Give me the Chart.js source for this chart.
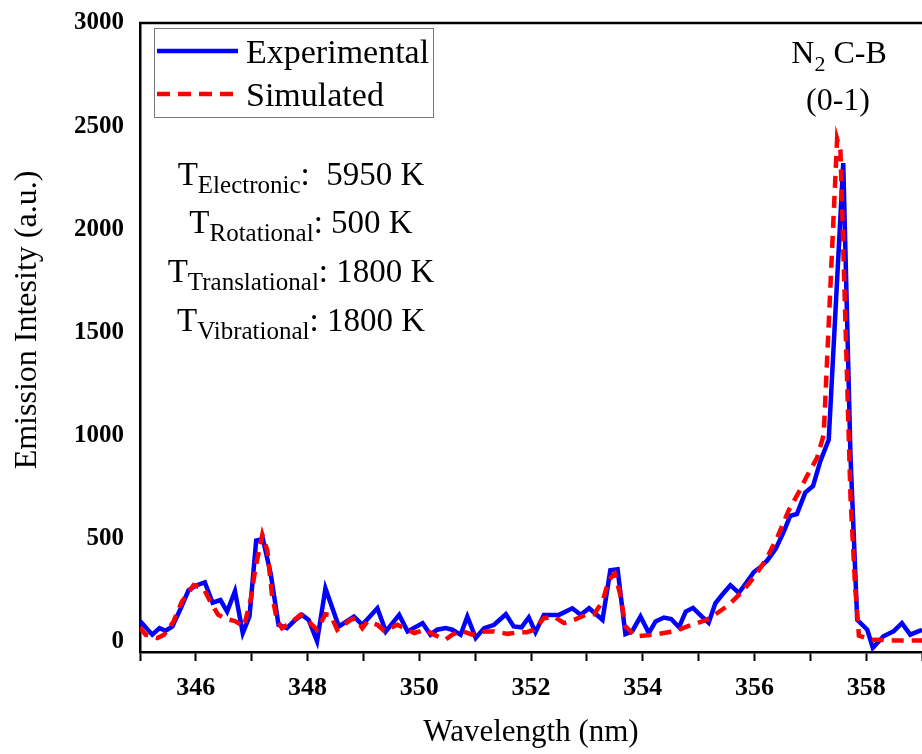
<!DOCTYPE html>
<html>
<head>
<meta charset="utf-8">
<title>N2 C-B (0-1) emission</title>
<script src="https://cdn.jsdelivr.net/npm/chart.js@4.4.1/dist/chart.umd.min.js"></script>
<style>
  html, body { margin: 0; padding: 0; background: #fff; overflow: hidden; }
  #wrap { width: 922px; height: 754px; position: relative; }
</style>
</head>
<body>
<div id="wrap"><canvas id="myChart"></canvas></div>
<script>
// experimental spectrum (nm, a.u.)
const expWavelength = [345.00, 345.22, 345.35, 345.46, 345.58, 345.73, 345.87, 346.02, 346.16, 346.30,
  346.44, 346.56, 346.70, 346.84, 346.96, 347.08, 347.20, 347.34, 347.48, 347.63,
  347.78, 347.90, 348.02, 348.17, 348.32, 348.56, 348.83, 348.98, 349.25, 349.40,
  349.64, 349.79, 350.06, 350.20, 350.32, 350.47, 350.59, 350.74, 350.86, 351.01,
  351.16, 351.34, 351.55, 351.69, 351.83, 351.96, 352.08, 352.23, 352.50, 352.74,
  352.89, 353.04, 353.28, 353.42, 353.55, 353.69, 353.81, 353.96, 354.11, 354.23,
  354.38, 354.51, 354.65, 354.77, 354.90, 355.06, 355.18, 355.30, 355.43, 355.57,
  355.72, 355.86, 355.99, 356.11, 356.23, 356.38, 356.52, 356.64, 356.76, 356.91,
  357.05, 357.18, 357.33, 357.59, 357.72, 357.84, 358.02, 358.12, 358.31, 358.49,
  358.64, 358.79, 359.00];
const expIntensity = [100, 34, 66, 53, 74, 162, 250, 274, 288, 189,
  202, 146, 245, 42, 122, 490, 498, 330, 82, 66,
  106, 130, 106, 2, 258, 74, 122, 82, 162, 50,
  130, 50, 90, 34, 58, 66, 58, 34, 122, 18,
  66, 82, 133, 74, 70, 118, 46, 130, 130, 162,
  130, 162, 106, 346, 351, 37, 50, 122, 42, 98,
  117, 110, 70, 146, 164, 122, 92, 186, 230, 274,
  237, 288, 338, 362, 394, 450, 530, 610, 619, 723,
  755, 875, 979, 2321, 900, 106, 58, -30, 26, 50,
  90, 34, 58];

// simulated spectrum (nm, a.u.)
const simWavelength = [345.00, 345.10, 345.31, 345.43, 345.60, 345.75, 345.96, 346.14, 346.26, 346.40,
  346.55, 346.70, 346.86, 346.98, 347.07, 347.19, 347.28, 347.36, 347.45, 347.54,
  347.69, 347.87, 347.99, 348.17, 348.32, 348.41, 348.53, 348.77, 348.86, 348.98,
  349.07, 349.25, 349.37, 349.61, 349.79, 349.91, 350.11, 350.26, 350.47, 350.59,
  350.74, 350.95, 351.19, 351.34, 351.58, 351.76, 351.93, 352.05, 352.23, 352.41,
  352.59, 352.77, 353.01, 353.13, 353.28, 353.39, 353.50, 353.60, 353.69, 353.87,
  354.20, 354.38, 354.56, 354.80, 354.98, 355.15, 355.33, 355.54, 355.78, 356.02,
  356.23, 356.41, 356.61, 356.79, 356.94, 357.12, 357.24, 357.48, 357.54, 357.72,
  357.80, 357.87, 358.08, 358.50, 359.00];
const simIntensity = [70, 34, 18, 34, 98, 194, 274, 258, 194, 130,
  110, 100, 74, 202, 362, 519, 442, 234, 106, 66,
  90, 130, 106, 58, 133, 130, 58, 106, 114, 66,
  98, 82, 53, 82, 58, 42, 58, 34, 10, 34,
  53, 34, 50, 50, 38, 45, 46, 58, 114, 122,
  90, 106, 133, 133, 194, 298, 330, 226, 74, 26,
  34, 42, 50, 74, 90, 106, 138, 178, 242, 322,
  410, 506, 635, 723, 803, 891, 1003, 2438, 2381, 700,
  282, 30, 10, 6, 6];

const xTicks = [345, 346, 347, 348, 349, 350, 351, 352, 353, 354, 355, 356, 357, 358, 359];
const xLabels = [346, 348, 350, 352, 354, 356, 358];
const yTicks = [0, 500, 1000, 1500, 2000, 2500, 3000];

const tempNames = ['Electronic', 'Rotational', 'Translational', 'Vibrational'];
const tempValues = [':  5950 K', ': 500 K', ': 1800 K', ': 1800 K'];

const serif = '"Liberation Serif", "Times New Roman", serif';

function toPoints(xs, ys) {
  return xs.map((x, i) => ({x: x, y: ys[i]}));
}

// text with a subscript, centred on cx
function drawSub(ctx, cx, base, main, sub, rest, big, small, drop) {
  ctx.font = big + 'px ' + serif;
  const w1 = ctx.measureText(main).width;
  const w3 = ctx.measureText(rest).width;
  ctx.font = small + 'px ' + serif;
  const w2 = ctx.measureText(sub).width;
  let x = cx - (w1 + w2 + w3) / 2;
  ctx.textAlign = 'left';
  ctx.textBaseline = 'alphabetic';
  ctx.font = big + 'px ' + serif;
  ctx.fillText(main, x, base);
  x += w1;
  ctx.font = small + 'px ' + serif;
  ctx.fillText(sub, x, base + drop);
  x += w2;
  ctx.font = big + 'px ' + serif;
  ctx.fillText(rest, x, base);
}

const extras = {
  id: 'extras',
  afterDraw(chart) {
    const ctx = chart.ctx;
    const a = chart.chartArea;
    ctx.save();
    ctx.fillStyle = '#000';

    // top frame line
    ctx.strokeStyle = '#000';
    ctx.lineWidth = 2.5;
    ctx.beginPath();
    ctx.moveTo(a.left - 1, a.top);
    ctx.lineTo(a.right, a.top);
    ctx.stroke();

    // legend
    ctx.strokeStyle = '#777';
    ctx.lineWidth = 1;
    ctx.strokeRect(154.5, 28.5, 279, 89);
    ctx.lineWidth = 4.5;
    ctx.strokeStyle = '#0000ff';
    ctx.beginPath(); ctx.moveTo(157, 51); ctx.lineTo(238, 51); ctx.stroke();
    ctx.strokeStyle = '#ff0000';
    ctx.setLineDash([13, 8]);
    ctx.beginPath(); ctx.moveTo(157, 94); ctx.lineTo(236, 94); ctx.stroke();
    ctx.setLineDash([]);
    ctx.font = '34px ' + serif;
    ctx.textAlign = 'left';
    ctx.textBaseline = 'alphabetic';
    ctx.fillText('Experimental', 246, 63);
    ctx.fillText('Simulated', 246, 106);

    // temperatures
    const bases = [185, 233, 282, 331];
    tempNames.forEach((n, i) => {
      drawSub(ctx, 301, bases[i], 'T', n, tempValues[i], 33, 25, 8);
    });

    // band label
    drawSub(ctx, 839, 63, 'N', '2', ' C-B', 32, 22, 8);
    ctx.font = '32px ' + serif;
    ctx.textAlign = 'center';
    ctx.fillText('(0-1)', 838, 110);

    // y axis title
    ctx.translate(28, 320);
    ctx.rotate(-Math.PI / 2);
    ctx.textAlign = 'center';
    ctx.textBaseline = 'middle';
    ctx.font = '32px ' + serif;
    ctx.fillText('Emission Intesity (a.u.)', 0, 0);
    ctx.restore();
  }
};

const ctx = document.getElementById('myChart').getContext('2d');
const chart = new Chart(ctx, {
  type: 'line',
  data: {
    datasets: [{
      label: 'Experimental',
      data: toPoints(expWavelength, expIntensity),
      borderColor: '#0000ff',
      borderWidth: 4.5,
      pointRadius: 0,
      tension: 0,
      order: 1
    }, {
      label: 'Simulated',
      data: toPoints(simWavelength, simIntensity),
      borderColor: '#ff0000',
      borderWidth: 4.5,
      borderDash: [12, 8],
      pointRadius: 0,
      tension: 0,
      order: 0
    }]
  },
  options: {
    responsive: true,
    maintainAspectRatio: false,
    animation: false,
    devicePixelRatio: 1,
    layout: { padding: { top: 12, left: 0, right: 0, bottom: 0 } },
    plugins: {
      legend: { display: false },
      tooltip: { enabled: false }
    },
    scales: {
      x: {
        type: 'linear',
        min: 345,
        max: 359,
        afterBuildTicks: s => { s.ticks = xTicks.map(v => ({value: v})); },
        afterFit: s => { s.height = 102; s.paddingLeft = 0; s.paddingRight = 0; },
        ticks: {
          autoSkip: false,
          maxRotation: 0,
          padding: 12,
          color: '#000',
          font: { family: serif, size: 26, weight: 'bold' },
          callback: v => xLabels.includes(v) ? String(v) : ''
        },
        grid: { drawOnChartArea: false, drawTicks: true, tickLength: 9, tickColor: '#000', tickWidth: 2, color: '#000' },
        border: { display: true, color: '#000', width: 2.5 },
        title: {
          display: true,
          text: 'Wavelength (nm)',
          color: '#000',
          font: { family: serif, size: 31 },
          padding: { top: 0, bottom: 3 }
        }
      },
      y: {
        min: -50,
        max: 3000,
        afterBuildTicks: s => { s.ticks = yTicks.map(v => ({value: v})); },
        afterFit: s => { s.width = 140; },
        ticks: {
          padding: 8,
          color: '#000',
          font: { family: serif, size: 25, weight: 'bold' },
          callback: v => String(v)
        },
        grid: { display: false },
        border: { display: true, color: '#000', width: 2.5 }
      }
    }
  },
  plugins: [extras]
});
</script>
</body>
</html>
